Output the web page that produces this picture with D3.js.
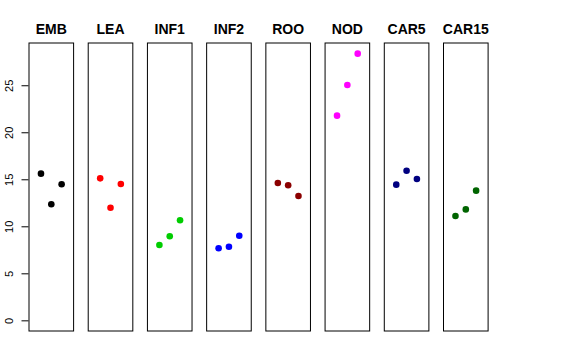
<!DOCTYPE html>
<html><head><meta charset="utf-8">
<script src="https://cdn.jsdelivr.net/npm/d3@7"></script>
<style>body{margin:0;background:#fff}svg{display:block}</style>
</head><body>
<script>
const categories = ["EMB","LEA","INF1","INF2","ROO","NOD","CAR5","CAR15"];
const colors = ["#000000","#FF0000","#00CD00","#0000FF","#8B0000","#FF00FF","#000080","#006400"];
const valuesEMB = [15.6, 12.34, 14.47];
const valuesLEA = [15.1, 11.98, 14.5];
const valuesINF1 = [8.01, 8.94, 10.64];
const valuesINF2 = [7.66, 7.83, 9.0];
const valuesROO = [14.61, 14.36, 13.22];
const valuesNOD = [21.77, 25.03, 28.36];
const valuesCAR5 = [14.43, 15.91, 15.03];
const valuesCAR15 = [11.1, 11.8, 13.79];
const yTicks = [0, 5, 10, 15, 20, 25];
const series = [valuesEMB, valuesLEA, valuesINF1, valuesINF2, valuesROO, valuesNOD, valuesCAR5, valuesCAR15];

(function () {
const W = 576, H = 360;
const svg = d3.select("body").append("svg").attr("width", W).attr("height", H);
const plotTop = 43, plotBottom = 331;
const ymax = d3.max(series.flat());
const pad = ymax * 0.04;
const y = d3.scaleLinear().domain([0 - pad, ymax + pad]).range([plotBottom, plotTop]);
const panelLeft = d3.scalePoint().domain(categories).range([29, 443.5]);
const pw = 44.6;
const x = d3.scaleLinear().domain([-0.16, 4.16]).range([0, pw]);

categories.forEach((c, i) => {
  const g = svg.append("g").attr("transform", `translate(${panelLeft(c)},0)`);
  g.append("rect").attr("x", 0).attr("y", plotTop).attr("width", pw).attr("height", plotBottom - plotTop)
    .attr("fill", "none").attr("stroke", "#000").attr("stroke-width", 1);
  g.append("text").attr("x", pw / 2).attr("y", 34).attr("text-anchor", "middle")
    .attr("font-family", "Liberation Sans, Arial, sans-serif").attr("font-weight", "bold")
    .attr("font-size", 14).text(c);
  g.selectAll("circle").data(series[i]).join("circle")
    .attr("cx", (d, j) => x(j + 1)).attr("cy", d => y(d)).attr("r", 3.3).attr("fill", colors[i]);
});

const axis = d3.axisLeft(y).tickValues(yTicks).tickSize(7).tickSizeOuter(0);
const ag = svg.append("g").attr("transform", "translate(28.5,0)").call(axis);
ag.select(".domain").remove();
ag.selectAll("line").attr("stroke", "#000");
ag.selectAll("text").attr("font-family", "Liberation Sans, Arial, sans-serif").attr("font-size", 11)
  .attr("fill", "#000").attr("x", null)
  .attr("text-anchor", "middle")
  .attr("transform", "translate(-19,0) rotate(-90)")
  .attr("dy", "0.35em");
})();
</script>
</body></html>
